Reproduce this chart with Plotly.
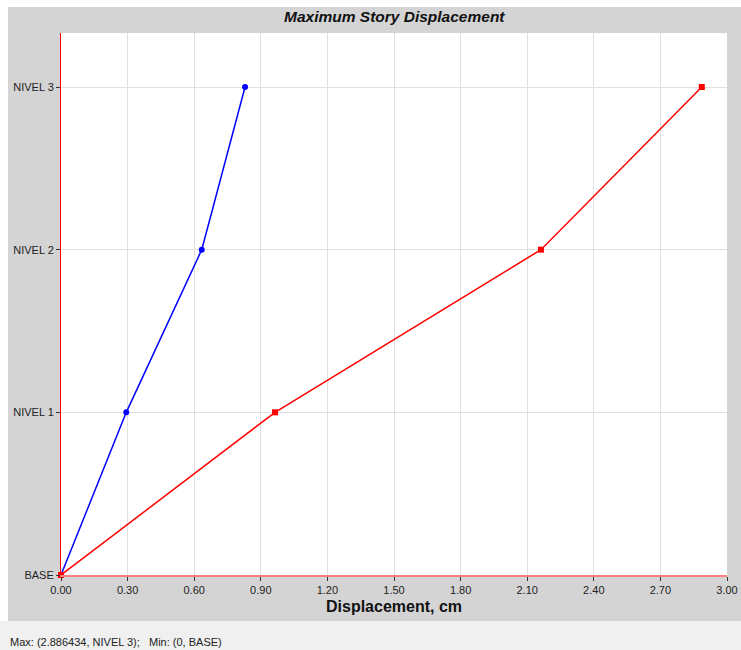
import plotly.graph_objects as go

levels = ["BASE", "NIVEL 1", "NIVEL 2", "NIVEL 3"]
level_pos = [0, 1, 2, 3]
disp_x = [0.0, 0.294, 0.634, 0.829]      # blue series
disp_y = [0.0, 0.964, 2.162, 2.886434]   # red series
x_ticks = [0.0, 0.3, 0.6, 0.9, 1.2, 1.5, 1.8, 2.1, 2.4, 2.7, 3.0]
x_ticktext = [f"{v:.2f}" for v in x_ticks]

W, H = 741, 650
L, R, T, B = 61, 727, 33, 575  # plot area in px

def px(xp):
    return (xp - L) / (R - L)

def py(yp):
    return (B - yp) / (B - T)

fig = go.Figure()
fig.add_trace(go.Scatter(
    x=disp_x, y=level_pos, mode="lines+markers",
    line=dict(color="#0000ff", width=1.5),
    marker=dict(symbol="circle", size=6, color="#0000ff"),
    cliponaxis=False, showlegend=False, hoverinfo="x+y",
))
fig.add_trace(go.Scatter(
    x=disp_y, y=level_pos, mode="lines+markers",
    line=dict(color="#ff0000", width=1.5),
    marker=dict(symbol="square", size=6, color="#ff0000"),
    cliponaxis=False, showlegend=False, hoverinfo="x+y",
))

shapes = [
    dict(type="rect", xref="paper", yref="paper", x0=px(0), x1=px(W), y0=py(7), y1=py(0),
         fillcolor="white", line=dict(width=0), layer="below"),
    dict(type="rect", xref="paper", yref="paper", x0=px(0), x1=px(8), y0=py(621), y1=py(0),
         fillcolor="white", line=dict(width=0), layer="below"),
    dict(type="rect", xref="paper", yref="paper", x0=px(0), x1=px(W), y0=py(H), y1=py(621),
         fillcolor="#f0f0f0", line=dict(width=0), layer="below"),
]

annotations = [
    dict(text="Maximum Story Displacement", xref="paper", yref="paper",
         x=0.5, y=py(17), xanchor="center", yanchor="middle", showarrow=False,
         font=dict(family="Liberation Sans, Arial", size=15.5, color="#111111",
                   weight="bold", style="italic")),
    dict(text="Displacement, cm", xref="paper", yref="paper",
         x=0.5, y=py(606), xanchor="center", yanchor="middle", showarrow=False,
         font=dict(family="Liberation Sans, Arial", size=16, color="#111111", weight="bold")),
    dict(text="Max: (2.886434, NIVEL 3);&nbsp;&nbsp;&nbsp;Min: (0, BASE)", xref="paper", yref="paper",
         x=px(8), y=py(642), xanchor="left", yanchor="middle", showarrow=False,
         font=dict(family="Liberation Sans, Arial", size=11, color="#222222")),
]

fig.update_layout(
    width=W, height=H,
    margin=dict(l=L, r=W - R, t=T, b=H - B, pad=0, autoexpand=False),
    paper_bgcolor="#d4d4d4",
    plot_bgcolor="white",
    shapes=shapes,
    annotations=annotations,
    font=dict(family="Liberation Sans, Arial", size=11, color="#222222"),
    xaxis=dict(
        range=[0, 3.0], tickvals=x_ticks, ticktext=x_ticktext,
        showgrid=True, gridcolor="#e0e0e0", gridwidth=1,
        zeroline=False, showline=True, linecolor="#ff8080", linewidth=2,
        ticks="outside", ticklen=4, tickcolor="#333333",
        tickfont=dict(size=11, color="#222222"), fixedrange=True, automargin=False,
    ),
    yaxis=dict(
        range=[0, 3.332], tickvals=level_pos, ticktext=levels,
        showgrid=True, gridcolor="#e0e0e0", gridwidth=1,
        zeroline=False, showline=True, linecolor="#ff0000", linewidth=1,
        ticks="outside", ticklen=4, tickcolor="#333333",
        tickfont=dict(size=11, color="#222222"), fixedrange=True, automargin=False,
    ),
)

fig.write_html(
    "out.html",
    post_script="document.body.style.margin='0';document.documentElement.style.overflow='hidden';document.body.style.overflow='hidden';",
    config={"displayModeBar": False},
)
